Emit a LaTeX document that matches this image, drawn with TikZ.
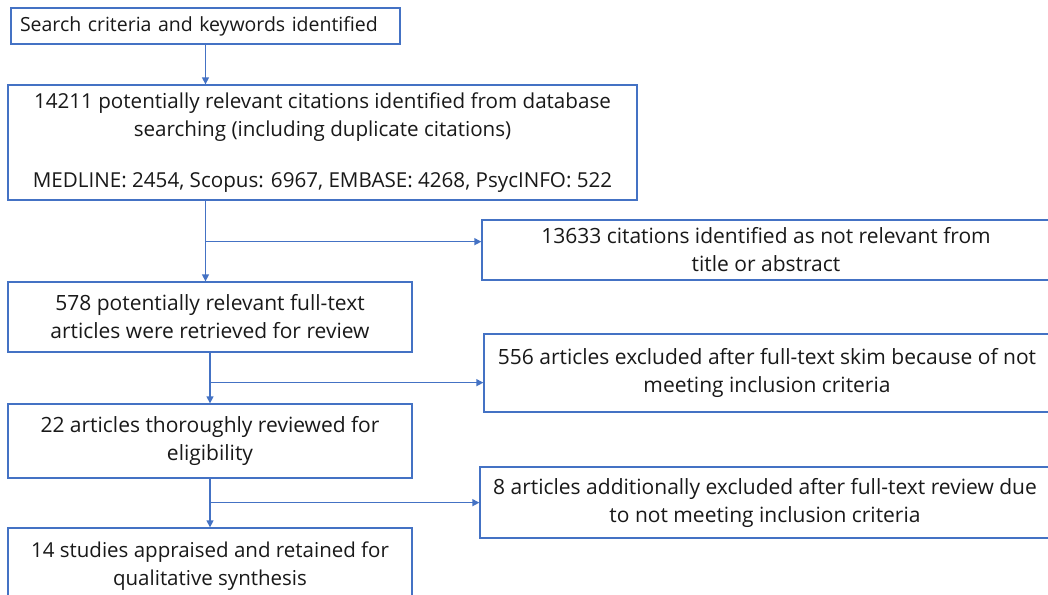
\documentclass[tikz,border=0pt]{standalone}
\usepackage{fontspec}
\setmainfont{Open Sans}
\usetikzlibrary{arrows.meta,calc}
\definecolor{lineblue}{HTML}{4472C4}
\begin{document}
\begin{tikzpicture}[x=1pt,y=-1pt,
  box/.style={draw=lineblue, line width=1.3pt, rectangle, inner sep=0pt,
    align=center, font=\fontsize{21}{28}\selectfont, text=black!90},
  arr/.style={draw=lineblue, line width=1.3pt, -{Triangle[length=7pt,width=7pt]}},
  ln/.style={draw=lineblue, line width=1.3pt}]
\useasboundingbox (0,0) rectangle (1048,594);
\clip (0,0) rectangle (1048,594);
\fill[white] (0,0) rectangle (1048,594);

\node[box, minimum width=389pt, minimum height=36pt, align=left,
      text width=371pt, font=\fontsize{19.5}{28}\selectfont] (b1) at (205.5,26) {Search criteria and keywords identified};

\node[box, minimum width=629pt, minimum height=115pt, font=\fontsize{20.6}{28}\selectfont] (b2) at (322.5,142.5)
  {14211 potentially relevant citations identified from database\\
   searching (including duplicate citations)\\[23pt]
   MEDLINE: 2454, Scopus: 6967, EMBASE: 4268, PsycINFO: 522};

\node[box, minimum width=568pt, minimum height=60pt] (b4) at (766,250)
  {13633 citations identified as not relevant from\\ title or abstract};

\node[box, minimum width=404pt, minimum height=70pt] (b3) at (210,317)
  {578 potentially relevant full-text\\ articles were retrieved for review};

\node[box, minimum width=566pt, minimum height=78pt] (b6) at (767,373)
  {556 articles excluded after full-text skim because of not\\ meeting inclusion criteria};

\node[box, minimum width=404pt, minimum height=74pt] (b5) at (210,441)
  {22 articles thoroughly reviewed for\\ eligibility};

\node[box, minimum width=570pt, minimum height=71pt] (b8) at (765,502.5)
  {8 articles additionally excluded after full-text review due\\ to not meeting inclusion criteria};

\node[box, minimum width=404pt, minimum height=76pt, font=\fontsize{20.5}{28}\selectfont] (b7) at (210,566)
  {14 studies appraised and retained for\\ qualitative synthesis};

% connectors
\draw[arr] (b1.south) -- (b1.south |- b2.north);

\coordinate (s2) at (b2.south -| b1.south);
\draw[arr] (s2) -- (s2 |- b3.north);
\coordinate (j1) at ($(s2)+(0,41)$);
\draw[arr] (j1) -- (j1 -| b4.west);

\draw[arr] (b3.south) -- (b5.north);
\coordinate (j2) at ($(b3.south)+(0,30)$);
\draw[arr] (j2) -- (j2 -| b6.west);

\draw[arr] (b5.south) -- (b7.north);
\coordinate (j3) at ($(b5.south)+(0,24)$);
\draw[arr] (j3) -- (j3 -| b8.west);
\end{tikzpicture}
\end{document}
